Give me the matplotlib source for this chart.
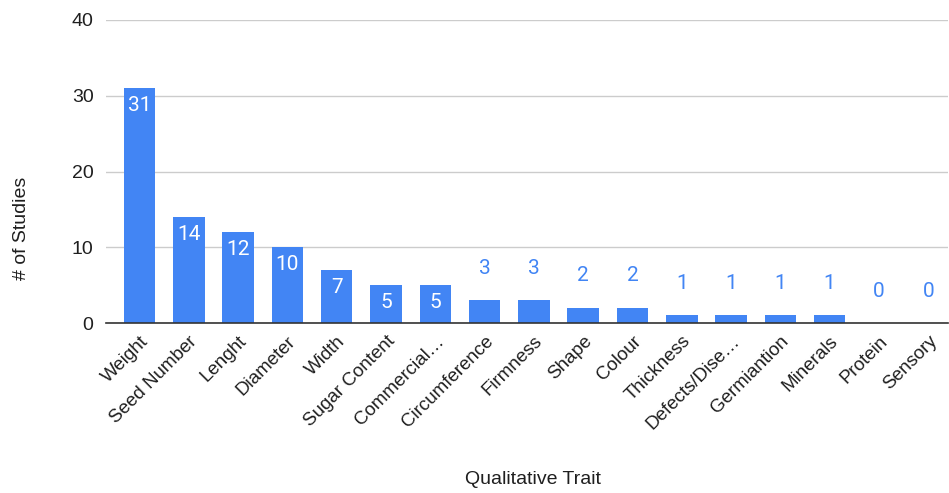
import matplotlib
matplotlib.use("Agg")
import matplotlib.pyplot as plt

traits = ["Weight", "Seed Number", "Lenght", "Diameter", "Width", "Sugar Content",
          "Commercial…", "Circumference", "Firmness", "Shape", "Colour", "Thickness",
          "Defects/Dise…", "Germiantion", "Minerals", "Protein", "Sensory"]
studies = [31, 14, 12, 10, 7, 5, 5, 3, 3, 2, 2, 1, 1, 1, 1, 0, 0]
y_ticks = [0, 10, 20, 30, 40]

BLUE = "#4285F4"
TEXT = "#1f1f1f"
plt.rcParams["font.family"] = ["Liberation Sans", "DejaVu Sans"]

fig = plt.figure(figsize=(9.49, 4.93), dpi=100)
W, H = 949, 493
ax = fig.add_axes([106 / W, (H - 323) / H, (948 - 106) / W, (323 - 20) / H])

x = list(range(len(traits)))
ax.bar(x, studies, width=0.64, color=BLUE, zorder=3)

ax.set_ylim(0, 40)
ax.set_xlim(-0.68, 16.4)
ax.set_yticks(y_ticks)
ax.set_yticklabels([str(v) for v in y_ticks], fontsize=14, color=TEXT)
ax.tick_params(axis="y", length=0, pad=9)
ax.grid(axis="y", color="#cccccc", linewidth=1, zorder=0)
for s in ["top", "right", "left"]:
    ax.spines[s].set_visible(False)
ax.spines["bottom"].set_color("#333333")
ax.spines["bottom"].set_linewidth(1.2)
ax.spines["bottom"].set_zorder(4)

ax.set_xticks(x)
ax.set_xticklabels(traits, rotation=45, ha="right", rotation_mode="anchor",
                   fontsize=13.5, color=TEXT)
ax.tick_params(axis="x", length=0, pad=7)

# value labels: inside the bar for tall bars, above it for short ones
for xi, v in zip(x, studies):
    if v >= 5:
        ax.annotate(str(v), (xi, v), xytext=(0, -12.5), textcoords="offset points",
                    ha="center", va="center", color="white", fontsize=15,
                    family=["Roboto", "DejaVu Sans"], zorder=5)
    else:
        ax.annotate(str(v), (xi, v), xytext=(0, 23), textcoords="offset points",
                    ha="center", va="center", color=BLUE, fontsize=15,
                    family=["Roboto", "DejaVu Sans"], zorder=5)

fig.text(22 / W, 1 - 228 / H, "# of Studies", rotation=90, ha="center", va="center",
         fontsize=14, color=TEXT)
fig.text(533 / W, 1 - 480 / H, "Qualitative Trait", ha="center", va="center",
         fontsize=14, color=TEXT)

fig.savefig("out.png", dpi=100, facecolor="white")
